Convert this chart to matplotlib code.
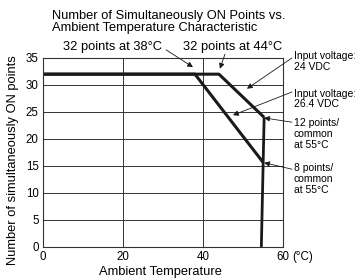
import matplotlib
matplotlib.use("Agg")
import matplotlib.pyplot as plt

plt.rcParams["font.family"] = ["Liberation Sans", "DejaVu Sans"]

# Derating curves (ambient temperature vs. simultaneously ON points)
temp_24v = [0, 44, 55.3]
points_24v = [32, 32, 24]
temp_264v = [0, 38, 55]
points_264v = [32, 32, 15.7]
cutoff_temp = [55.3, 54.6]
cutoff_points = [24, 0]

x_ticks = [0, 20, 40, 60]
y_ticks = [0, 5, 10, 15, 20, 25, 30, 35]

# callouts: text, text position (data units), alignment
labels = [
    ("32 points at 38°C", (5.0, 37.0), "center"),
    ("32 points at 44°C", (35.0, 37.0), "center"),
    ("Input voltage:\n24 VDC", (62.75, 36.2), "top"),
    ("Input voltage:\n26.4 VDC", (62.75, 29.3), "top"),
    ("12 points/\ncommon\nat 55°C", (62.75, 23.8), "top"),
    ("8 points/\ncommon\nat 55°C", (62.75, 15.5), "top"),
]
# arrows: start -> tip (data units)
arrows = [
    ((30.8, 36.5), (37.5, 33.3)),
    ((45.5, 35.7), (44.25, 33.0)),
    ((62.25, 35.0), (51.0, 29.3)),
    ((62.25, 28.7), (47.5, 24.4)),
    ((62.25, 23.1), (55.3, 23.9)),
    ((62.25, 14.4), (55.3, 15.6)),
]

fig = plt.figure(figsize=(3.55, 2.8), dpi=100)
ax = fig.add_axes([0.121, 0.118, 0.676, 0.675])

ax.plot(temp_24v, points_24v, color="#1a1a1a", lw=2.2, solid_capstyle="butt")
ax.plot(temp_264v, points_264v, color="#1a1a1a", lw=2.2, solid_capstyle="butt")
ax.plot(cutoff_temp, cutoff_points, color="#1a1a1a", lw=2.0, solid_capstyle="butt")

ax.set_xlim(0, 60)
ax.set_ylim(0, 35)
ax.set_xticks(x_ticks)
ax.set_yticks(y_ticks)
ax.set_xticklabels([str(t) for t in x_ticks], fontsize=8.3)
ax.set_yticklabels([str(t) for t in y_ticks], fontsize=8.3)
ax.tick_params(length=0, pad=3)
ax.grid(True, color="#333333", lw=0.7)
ax.set_axisbelow(True)
for s in ax.spines.values():
    s.set_color("#333333")
    s.set_linewidth(0.8)

ax.text(62.4, -0.75, "(°C)", fontsize=8.3, ha="left", va="top")
fig.text(160.5 / 355, 1 - 272 / 280, "Ambient Temperature",
         fontsize=9.3, ha="center", va="center")
fig.text(13 / 355, 1 - 160 / 280, "Number of simultaneously ON points",
         fontsize=9.3, ha="center", va="center", rotation=90)

fig.text(52 / 355, 1 - 10 / 280,
         "Number of Simultaneously ON Points vs.\nAmbient Temperature Characteristic",
         fontsize=9.3, ha="left", va="top", linespacing=1.05)

for text, pos, va in labels:
    big = va == "center"
    ax.text(pos[0], pos[1], text, ha="left", va=va,
            fontsize=9.3 if big else 7.5, linespacing=1.08, clip_on=False)

for start, tip in arrows:
    ax.annotate("", xy=tip, xytext=start, annotation_clip=False,
                arrowprops=dict(arrowstyle="-|>", color="#1a1a1a", lw=0.6,
                                mutation_scale=8, shrinkA=0, shrinkB=0))

fig.savefig("out.png", dpi=100)
